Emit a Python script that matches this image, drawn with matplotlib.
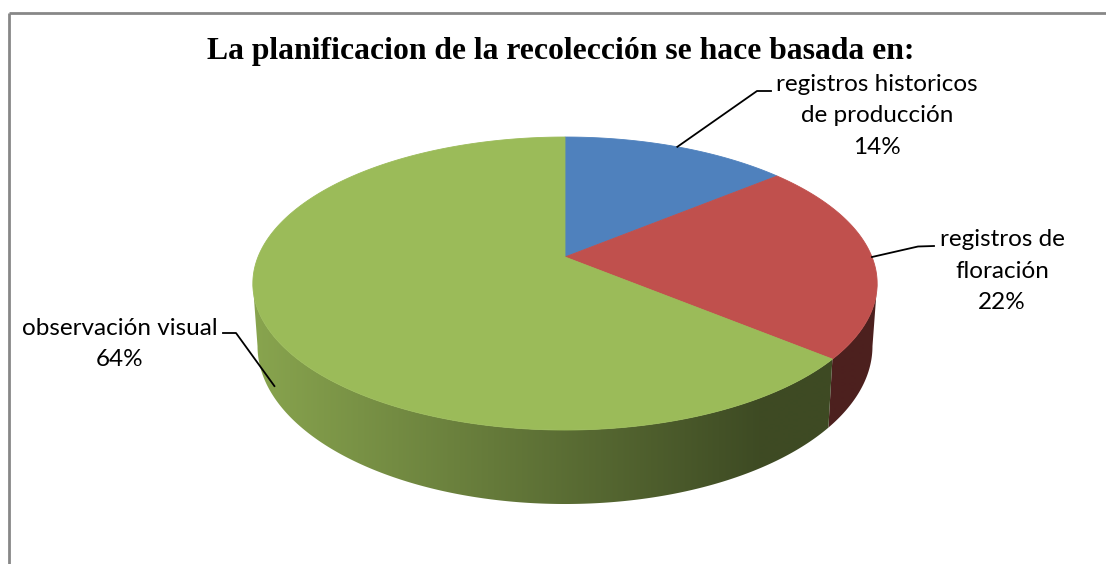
import numpy as np
import matplotlib
matplotlib.use("Agg")
import matplotlib.pyplot as plt
from matplotlib.patches import Polygon
from matplotlib.colors import to_rgb

# ---------------- data ----------------
title = "La planificacion de la recolección se hace basada en:"
categories = ["registros historicos\nde producción", "registros de\nfloración", "observación visual"]
values = [14, 22, 64]
colors = ["#4F81BD", "#C0504D", "#9BBB59"]

# ---------------- layout ----------------
W, H = 1106, 564
fig = plt.figure(figsize=(W / 100, H / 100), dpi=100)
ax = fig.add_axes([0, 0, 1, 1])
ax.set_xlim(0, W)
ax.set_ylim(H, 0)
ax.axis("off")

# chart frame (top and left edges visible)
ax.plot([8.5, W + 5], [12.5, 12.5], color="#878787", lw=2, solid_capstyle="butt")
ax.plot([8.5, 8.5], [12.5, H + 5], color="#878787", lw=2, solid_capstyle="butt")

# 3D pie geometry (perspective ellipse)
cx, cy = 565, 257
a, b, k = 307, 141.7, 0.181
d0 = 60.6
bot_shrink = 0.985


def proj(theta_deg, drop=0.0):
    t = np.radians(theta_deg)
    u, v = np.sin(t), np.cos(t)
    w = 1 + k * v
    sx = 1 - (1 - bot_shrink) * drop
    return cx + a * u / w * sx, cy - b * v / w + drop * d0 / w


def shade(x):
    return np.clip(0.88 - 0.48 * (x - 253) / 507, 0.40, 0.9)


total = float(sum(values))
bounds = np.concatenate([[0], np.cumsum(values)]) / total * 360.0

# side faces: smooth horizontal gradient clipped to each slice's visible wall
lo_t = 90 + np.degrees(np.arcsin(k))
hi_t = 270 - np.degrees(np.arcsin(k))
gx = np.linspace(240, 890, 651)
for i, col in enumerate(colors):
    s, e = max(bounds[i], lo_t), min(bounds[i + 1], hi_t)
    if e <= s:
        continue
    th = np.linspace(s, e, int((e - s) * 2) + 2)
    top = [proj(t) for t in th]
    bot = [proj(t, 1) for t in th[::-1]]
    wall = Polygon(top + bot, closed=True, facecolor="none", edgecolor="none")
    ax.add_patch(wall)
    base = np.array(to_rgb(col))
    img = (base[None, None, :] * shade(gx)[None, :, None])
    im = ax.imshow(img, extent=(gx[0], gx[-1], 520, 120), aspect="auto",
                   interpolation="bilinear", zorder=1)
    im.set_clip_path(wall)

# top faces
for i, col in enumerate(colors):
    s, e = bounds[i], bounds[i + 1]
    th = np.linspace(s, e, int((e - s) * 2) + 2)
    pts = [(cx, cy)] + [proj(t) for t in th]
    ax.add_patch(Polygon(pts, closed=True, facecolor=col, edgecolor=col, lw=0.6, zorder=2))

ax.set_xlim(0, W)
ax.set_ylim(H, 0)

# labels with leader lines
mids = 0.5 * (bounds[:-1] + bounds[1:])
lab_font = dict(family=["Lato", "DejaVu Sans"], fontsize=17.5, color="black",
                ha="center", va="center", linespacing=1.6, zorder=4)

# label 1
ax0, ay0 = proj(mids[0])
ax.plot([ax0, 757, 771], [ay0, 91, 91], color="black", lw=1.3, zorder=3)
ax.text(877, 116, f"{categories[0]}\n{values[0]}%", **lab_font)

# label 2
ax1, ay1 = proj(mids[1])
ax.plot([ax1, 918, 934], [ay1, 246.5, 246], color="black", lw=1.3, zorder=3)
ax.text(1002, 271, f"{categories[1]}\n{values[1]}%", **lab_font)

# label 3
ax2, ay2 = proj(mids[2], 0.97)
ax.plot([223, 236, ax2 + 6], [333, 333, ay2], color="black", lw=1.3, zorder=3)
ax.text(120, 344, f"{categories[2]}\n{values[2]}%", **lab_font)

# title
ax.text(561, 52, title, family=["Liberation Serif", "DejaVu Serif"], fontweight="bold",
        fontsize=22.8, ha="center", va="center", color="black", zorder=4)

fig.savefig("out.png", dpi=100)
